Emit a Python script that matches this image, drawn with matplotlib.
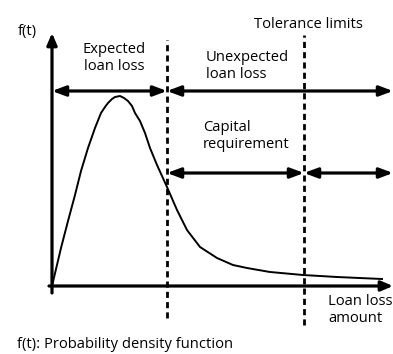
import matplotlib
matplotlib.use("Agg")
import matplotlib.pyplot as plt

# curve (loss amount, density), arbitrary units
loss = [0, 9, 16, 23, 29, 36, 43, 49, 53, 56, 60, 63, 68, 72, 76, 80, 83, 88, 93, 98, 105, 115,
        125, 135, 148, 165, 181, 195, 218, 251, 285, 330]
dens = [0, 38, 65, 91, 115, 138, 158, 173, 179, 183, 187, 189, 190, 188, 185, 180, 173, 165, 153,
        138, 121, 99, 76, 56, 39, 28, 21, 18, 14, 11, 9, 7]

expected_loss = 115     # first dashed line
tolerance = 252         # second dashed line
x_end = 341
y_top = 253
row_upper = 195
row_lower = 113

plt.rcParams["font.family"] = ["Open Sans", "DejaVu Sans"]
fig = plt.figure(figsize=(3.93, 3.54), dpi=100)
ax = fig.add_axes([52 / 393, 68 / 354, 341 / 393, 286 / 354])
ax.set_xlim(0, 341)
ax.set_ylim(0, 286)
ax.axis("off")

ax.plot(loss, dens, color="black", lw=1.4, solid_joinstyle="round")

# axes arrows
ax.annotate("", xy=(0, y_top), xytext=(0, -7), annotation_clip=False,
            arrowprops=dict(arrowstyle="-|>,head_length=0.7,head_width=0.3", lw=2.3, color="black",
                            shrinkA=0, shrinkB=0))
ax.annotate("", xy=(x_end, 0), xytext=(-3, 0), annotation_clip=False,
            arrowprops=dict(arrowstyle="-|>,head_length=0.7,head_width=0.3", lw=2.3, color="black",
                            shrinkA=0, shrinkB=0))

# dashed limits
ax.plot([expected_loss, expected_loss], [-32, 246], color="black", lw=2, ls=(0, (2.2, 1.5)), clip_on=False)
ax.plot([tolerance, tolerance], [-39, 251], color="black", lw=2, ls=(0, (2.2, 1.5)), clip_on=False)

def span(x0, x1, y):
    ax.annotate("", xy=(x1, y), xytext=(x0, y), annotation_clip=False,
                arrowprops=dict(arrowstyle="<|-|>,head_length=0.8,head_width=0.3", lw=2.3,
                                color="black", shrinkA=0, shrinkB=0))

span(0, expected_loss, row_upper)
span(expected_loss, x_end, row_upper)
span(expected_loss, tolerance, row_lower)
span(tolerance, x_end, row_lower)

fs = 10.6
ax.text(-34, 254, "f(t)", fontsize=fs, ha="left", va="center", clip_on=False)
ax.text(62, 228, "Expected\nloan loss", fontsize=fs, ha="center", va="center", linespacing=1.15)
ax.text(256, 262, "Tolerance limits", fontsize=fs, ha="center", va="center")
ax.text(154, 220, "Unexpected\nloan loss", fontsize=fs, ha="left", va="center", linespacing=1.15)
ax.text(151, 150, "Capital\nrequirement", fontsize=fs, ha="left", va="center", linespacing=1.15)
ax.text(276, -24, "Loan loss\namount", fontsize=fs, ha="left", va="center", linespacing=1.15, clip_on=False)
fig.text(17 / 393, 1 - 345 / 354, "f(t): Probability density function", fontsize=fs, ha="left", va="center")

fig.savefig("out.png", dpi=100)
